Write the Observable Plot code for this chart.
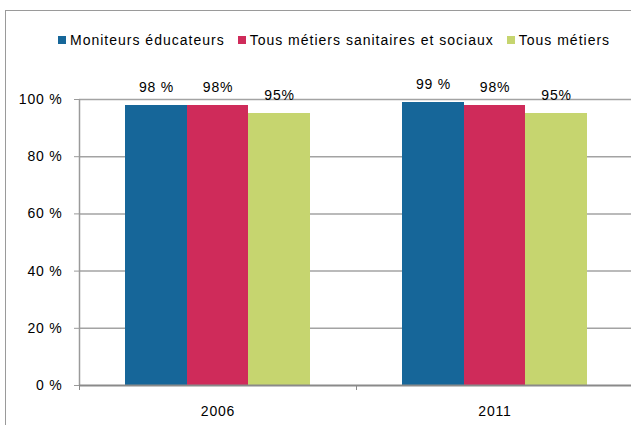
<!DOCTYPE html>
<html><head><meta charset="utf-8">
<script src="https://cdn.jsdelivr.net/npm/d3@7"></script>
<script src="https://cdn.jsdelivr.net/npm/@observablehq/plot@0.6"></script>
<style>
body{margin:0;background:#fff;font-family:"Liberation Sans",Arial,sans-serif;}
#wrap{position:relative;width:631px;height:425px;overflow:hidden;background:#fff;}
#frame{position:absolute;left:5px;top:10px;width:700px;height:500px;border:1px solid #9a9a9a;}
#legend{position:absolute;top:32px;left:58px;display:flex;font-size:14px;letter-spacing:1px;color:#000;white-space:nowrap;line-height:16px;}
.item{display:flex;align-items:center;margin-right:13px}
.sw{width:8px;height:8px;margin-right:4px}
#chart{position:absolute;left:0;top:0}
</style></head><body>
<div id="wrap"><div id="chart"></div><div id="frame"></div><div id="legend"></div></div>
<script>
const years = ["2006", "2011"];
const series = ["Moniteurs éducateurs", "Tous métiers sanitaires et sociaux", "Tous métiers"];
const colors = ["#166699", "#CF2B5A", "#C6D56F"];
const moniteurs = [0.98, 0.99];
const sanitaires = [0.98, 0.98];
const tousMetiers = [0.95, 0.95];
const moniteursLabels = ["98 %", "99 %"];
const sanitairesLabels = ["98%", "98%"];
const tousMetiersLabels = ["95%", "95%"];
const yTicks = [0, 0.2, 0.4, 0.6, 0.8, 1];

const values = [moniteurs, sanitaires, tousMetiers];
const labels = [moniteursLabels, sanitairesLabels, tousMetiersLabels];

// category layout in "bar units": outer gap 0.75, group of 3 bars, inner gap 1.5
const outer = 0.75, groupStep = 4.5;
const rows = [];
years.forEach((yr, i) => {
  series.forEach((s, j) => {
    const x1 = outer + i * groupStep + j;
    rows.push({year: yr, series: s, value: values[j][i], label: labels[j][i], x1, x2: x1 + 1});
  });
});
const centers = years.map((y, i) => outer + i * groupStep + 1.5);
const bounds = [0, groupStep, groupStep * 2];

const chart = Plot.plot({
  width: 631,
  height: 425,
  marginTop: 99,
  marginBottom: 40,
  marginLeft: 79,
  marginRight: -2,
  style: {fontFamily: "'Liberation Sans', Arial, sans-serif", fontSize: "14px", letterSpacing: "0.8px", background: "none", color: "#000"},
  x: {domain: [0, groupStep * 2], axis: null},
  y: {domain: [0, 1], axis: null},
  color: {domain: series, range: colors},
  marks: [
    Plot.ruleY(yTicks.filter(d => d > 0), {stroke: "#a3a3a3", strokeWidth: 1.5}),
    Plot.rectY(rows, {x1: "x1", x2: "x2", y: "value", fill: "series", shapeRendering: "crispEdges"}),
    Plot.ruleX([0], {stroke: "#9a9a9a", strokeWidth: 1.5}),
    Plot.ruleY([0], {stroke: "#8a8a8a", strokeWidth: 2}),
    Plot.axisY({ticks: yTicks, tickSize: 5, tickPadding: 12, stroke: "#9a9a9a", fill: "#000", label: null,
      tickFormat: d => `${Math.round(d * 100)} %`}),
    Plot.axisX({ticks: bounds, tickSize: 5, stroke: "#8a8a8a", label: null, tickFormat: () => ""}),
    Plot.axisX({ticks: centers, tickSize: 0, tickPadding: 21, fill: "#000", label: null,
      tickFormat: d => years[centers.indexOf(d)]}),
    Plot.text(rows, {x: d => (d.x1 + d.x2) / 2, y: "value", text: "label", dy: -18, fill: "#000", fontSize: 14})
  ]
});
document.getElementById("chart").appendChild(chart);

const legend = document.getElementById("legend");
series.forEach((s, i) => {
  const item = document.createElement("div");
  item.className = "item";
  const sw = document.createElement("span");
  sw.className = "sw";
  sw.style.background = colors[i];
  const t = document.createElement("span");
  t.textContent = s;
  item.appendChild(sw);
  item.appendChild(t);
  legend.appendChild(item);
});
</script>
</body></html>
